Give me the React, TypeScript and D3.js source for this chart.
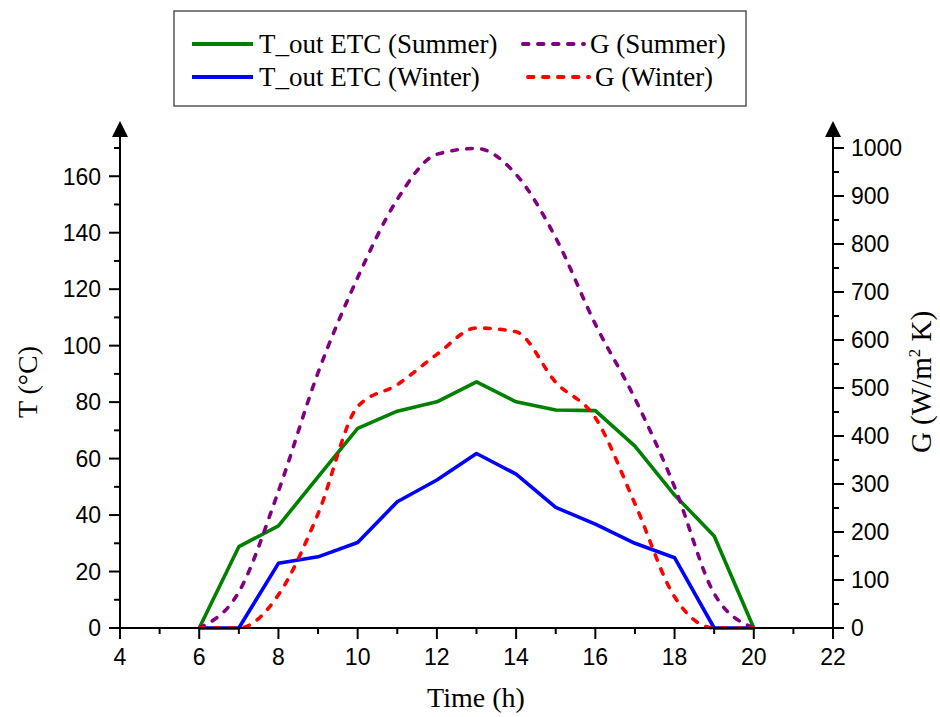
import React from "react";
import * as d3 from "d3";

const hours = [6, 7, 8, 9, 10, 11, 12, 13, 14, 15, 16, 17, 18, 19, 20];
const tSummer = [0, 28.8, 36.2, 53.5, 70.7, 76.8, 80.1, 87.2, 80.1, 77.2, 77.0, 64.4, 47.1, 32.6, 0];
const tWinter = [0, 0, 22.9, 25.2, 30.3, 44.7, 52.4, 61.8, 54.5, 42.7, 36.8, 30.0, 24.9, 0, 0];
const gSummer = [0, 75, 285, 532, 730, 893, 987, 999, 945, 813, 633, 478, 294, 72, 0];
const gWinter = [0, 0, 69, 238, 461, 507, 570, 625, 617, 512, 438, 259, 65, 0, 0];

const xTicks = [4, 6, 8, 10, 12, 14, 16, 18, 20, 22];
const xMinor = [5, 7, 9, 11, 13, 15, 17, 19, 21];
const yLeftTicks = [0, 20, 40, 60, 80, 100, 120, 140, 160];
const yLeftMinor = [10, 30, 50, 70, 90, 110, 130, 150, 170];
const yRightTicks = [0, 100, 200, 300, 400, 500, 600, 700, 800, 900, 1000];
const yRightMinor = [50, 150, 250, 350, 450, 550, 650, 750, 850, 950];

const legendItems = [
  { label: "T_out ETC (Summer)", color: "#008000", dashed: false },
  { label: "T_out ETC (Winter)", color: "#0000FF", dashed: false },
  { label: "G (Summer)", color: "#800080", dashed: true },
  { label: "G (Winter)", color: "#FF0000", dashed: true },
];

const SANS = "'Liberation Sans', Arial, sans-serif";
const SERIF = "'Liberation Serif', 'Times New Roman', serif";

export default function App() {
  const x0 = 120, x1 = 833, yBase = 628, yTop = 148;
  const x = d3.scaleLinear().domain([4, 22]).range([x0, x1]);
  const yL = d3.scaleLinear().domain([0, 170]).range([yBase, yTop]);
  const yR = d3.scaleLinear().domain([0, 1000]).range([yBase, yTop]);

  const solid = (vals: number[], sc: d3.ScaleLinear<number, number>) =>
    d3.line<number>().x((_, i) => x(hours[i])).y((v) => sc(v))(vals) || "";
  const smooth = (vals: number[], sc: d3.ScaleLinear<number, number>) =>
    d3.line<number>().x((_, i) => x(hours[i])).y((v) => sc(v)).curve(d3.curveMonotoneX)(vals) || "";

  const arrowTip = 121;
  const arrow = (cx: number) => `M${cx},${arrowTip} L${cx - 8},${arrowTip + 16} L${cx + 8},${arrowTip + 16} Z`;

  const lw = 3.6;
  const dash = "5.5,9.5";

  return (
    <svg width={940} height={717} style={{ position: "absolute", left: 0, top: 0, background: "#fff" }}>
      <rect x={0} y={0} width={940} height={717} fill="#fff" />
      {/* data lines */}
      <g fill="none" strokeLinejoin="round">
        <path d={solid(tSummer, yL)} stroke="#008000" strokeWidth={lw} />
        <path d={solid(tWinter, yL)} stroke="#0000FF" strokeWidth={lw} />
        <path d={smooth(gSummer, yR)} stroke="#800080" strokeWidth={lw} strokeDasharray={dash} strokeLinecap="round" />
        <path d={smooth(gWinter, yR)} stroke="#FF0000" strokeWidth={lw} strokeDasharray={dash} strokeLinecap="round" />
      </g>
      {/* axes */}
      <g stroke="#000" strokeWidth={2} fill="none">
        <line x1={x0} x2={x1} y1={yBase} y2={yBase} />
        <line x1={x0} x2={x0} y1={yBase + 1} y2={arrowTip + 10} />
        <line x1={x1} x2={x1} y1={yBase + 1} y2={arrowTip + 10} />
        {xTicks.map((t) => (
          <line key={"xt" + t} x1={x(t)} x2={x(t)} y1={yBase} y2={yBase + 11} />
        ))}
        {xMinor.map((t) => (
          <line key={"xm" + t} x1={x(t)} x2={x(t)} y1={yBase} y2={yBase + 6} />
        ))}
        {yLeftTicks.map((t) => (
          <line key={"ylt" + t} x1={x0 - 11} x2={x0} y1={yL(t)} y2={yL(t)} />
        ))}
        {yLeftMinor.map((t) => (
          <line key={"ylm" + t} x1={x0 - 6} x2={x0} y1={yL(t)} y2={yL(t)} />
        ))}
        {yRightTicks.map((t) => (
          <line key={"yrt" + t} x1={x1} x2={x1 + 11} y1={yR(t)} y2={yR(t)} />
        ))}
        {yRightMinor.map((t) => (
          <line key={"yrm" + t} x1={x1} x2={x1 + 6} y1={yR(t)} y2={yR(t)} />
        ))}
      </g>
      <path d={arrow(x0)} fill="#000" />
      <path d={arrow(x1)} fill="#000" />
      {/* tick labels */}
      <g fontFamily={SANS} fontSize={23} fill="#000">
        {xTicks.map((t) => (
          <text key={"xl" + t} x={x(t)} y={665} textAnchor="middle">{t}</text>
        ))}
        {yLeftTicks.map((t) => (
          <text key={"yll" + t} x={101} y={yL(t)} dy="0.36em" textAnchor="end">{t}</text>
        ))}
        {yRightTicks.map((t) => (
          <text key={"yrl" + t} x={851} y={yR(t)} dy="0.36em" textAnchor="start">{t}</text>
        ))}
      </g>
      {/* axis titles */}
      <g fontFamily={SERIF} fontSize={28} fill="#000">
        <text x={476} y={707} textAnchor="middle">Time (h)</text>
        <text transform="translate(37,382) rotate(-90)" textAnchor="middle">T (°C)</text>
        <text transform="translate(931,382) rotate(-90)" textAnchor="middle" fontSize={29}>
          G (W/m<tspan fontSize={17} dy={-11}>2</tspan><tspan dy={11}> K)</tspan>
        </text>
      </g>
      {/* legend */}
      <rect x={174} y={11} width={572} height={95} fill="#fff" stroke="#555" strokeWidth={1.5} />
      <g fontFamily={SERIF} fontSize={27} fill="#000">
        {legendItems.map((it, i) => {
          const col = Math.floor(i / 2);
          const row = i % 2;
          const ly = 44 + row * 33;
          const lx = col === 0 ? 192 : row === 0 ? 523 : 528;
          return (
            <g key={it.label}>
              <line x1={lx} x2={lx + 61} y1={ly} y2={ly} stroke={it.color} strokeWidth={4}
                strokeDasharray={it.dashed ? dash : undefined} strokeLinecap={it.dashed ? "round" : "butt"} />
              <text x={lx + 67} y={ly + 9}>{it.label}</text>
            </g>
          );
        })}
      </g>
    </svg>
  );
}
